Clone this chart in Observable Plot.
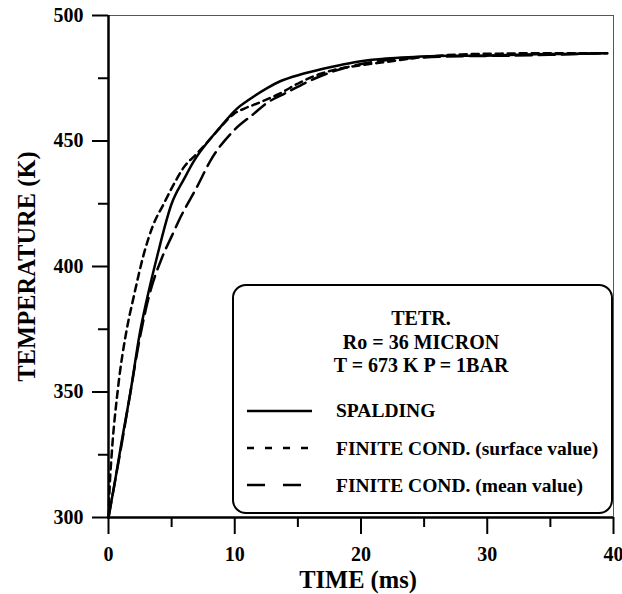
<!DOCTYPE html>
<html>
<head>
<meta charset="utf-8">
<script src="https://cdn.jsdelivr.net/npm/d3@7"></script>
<script src="https://cdn.jsdelivr.net/npm/@observablehq/plot@0.6"></script>
<style>
  html, body { margin: 0; padding: 0; background: #fff; }
  #wrap { position: relative; width: 622px; height: 594px; }
  #legend { position: absolute; left: 0; top: 0; pointer-events: none; }
  svg text { font-family: "Liberation Serif", "Times New Roman", serif; }
</style>
</head>
<body>
<div id="wrap"></div>
<script>
// ---- data ----
const spaldingT = [0, 0.5, 1, 1.74, 2.5, 3, 3.85, 5, 6, 6.76, 8, 8.6, 10.2, 11, 12.6, 13.6, 15.2, 17, 18.4, 20, 22, 24.2, 27, 29.5, 33, 36, 39.5];
const spaldingV = [300, 314, 329, 350, 374, 386, 404, 425, 435, 442, 450.5, 454, 463, 466, 471.2, 473.8, 476.5, 478.8, 480.3, 481.8, 482.9, 483.5, 484, 484, 484.5, 484.7, 485];

const surfaceT = [0, 0.1, 0.25, 0.74, 1.43, 2, 2.8, 3.5, 4.38, 5.2, 5.96, 7, 8, 8.87, 9.93, 10.8, 11.8, 13.6, 15.2, 16.8, 18, 20, 22, 25, 28, 31, 35, 39.5];
const surfaceV = [300, 313, 325, 351, 374.5, 388, 405, 416, 425, 433, 439.5, 445, 450.5, 455.5, 460.8, 463, 465, 469, 473.4, 476.8, 478.5, 480.2, 481.5, 483.5, 484.5, 484.8, 485, 485];

const meanT = [0, 0.5, 1, 1.74, 2.5, 3.2, 4.25, 5, 5.7, 7, 8.08, 9.93, 11.5, 12.5, 14, 16.3, 18.9, 21, 24, 28, 32, 36, 39.5];
const meanV = [300, 314, 328, 350, 372, 388, 403.7, 412, 419.6, 431.6, 442.2, 454.2, 460.8, 465, 469, 474.8, 479.4, 481.5, 483, 483.8, 484, 484.5, 485];

const xMajor = [0, 10, 20, 30, 40];
const xMinor = [5, 15, 25, 35];
const yMajor = [300, 350, 400, 450, 500];
const yMinor = [325, 375, 425, 475];

const xTitle = "TIME (ms)";
const yTitle = "TEMPERATURE (K)";
const legendHead = ["TETR.", "Ro = 36 MICRON", "T = 673 K P = 1BAR"];
const seriesNames = ["SPALDING", "FINITE COND. (surface value)", "FINITE COND. (mean value)"];
const seriesDash = [null, "7,5", "16,7"];
const legendDash = [null, "7,11", "18,18"];

// ---- build tables ----
const toRows = (ts, vs) => ts.map((t, i) => ({t, v: vs[i]}));
const spalding = toRows(spaldingT, spaldingV);
const surface = toRows(surfaceT, surfaceV);
const mean = toRows(meanT, meanV);

const font = "Liberation Serif";

const chart = Plot.plot({
  width: 622,
  height: 594,
  marginLeft: 108,
  marginRight: 9,
  marginTop: 15,
  marginBottom: 77,
  style: {fontFamily: font, fontWeight: "bold", background: "#fff", color: "#000"},
  x: {domain: [0, 40]},
  y: {domain: [300, 500]},
  marks: [
    // frame: thin top/right
    Plot.ruleY([500], {stroke: "#555", strokeWidth: 1}),
    Plot.ruleX([40], {stroke: "#555", strokeWidth: 1}),
    // curves
    Plot.line(spalding, {x: "t", y: "v", stroke: "#000", strokeWidth: 2.5, curve: "monotone-x"}),
    Plot.line(surface, {x: "t", y: "v", stroke: "#000", strokeWidth: 2.5, strokeDasharray: seriesDash[1], curve: "monotone-x"}),
    Plot.line(mean, {x: "t", y: "v", stroke: "#000", strokeWidth: 2.5, strokeDasharray: seriesDash[2], curve: "monotone-x"}),
    // axes
    Plot.axisX({ticks: xMajor, tickSize: 17, tickPadding: 12, fontSize: 20, fontWeight: "bold", strokeWidth: 2, label: null}),
    Plot.axisX({ticks: xMinor, tickSize: 10, tickFormat: () => "", strokeWidth: 2, label: null}),
    Plot.axisY({ticks: yMajor, tickSize: 16, tickPadding: 9, fontSize: 20, fontWeight: "bold", strokeWidth: 2, label: null}),
    Plot.axisY({ticks: yMinor, tickSize: 10, tickFormat: () => "", strokeWidth: 2, label: null}),
    Plot.ruleX([0], {stroke: "#000", strokeWidth: 2.5}),
    Plot.ruleY([300], {stroke: "#000", strokeWidth: 2.5}),
    // axis titles
    Plot.text([yTitle], {text: d => d, frameAnchor: "left", dx: -81, rotate: -90, textAnchor: "middle", lineAnchor: "middle", fontSize: 24.5, fontWeight: "bold"}),
    Plot.text([xTitle], {text: d => d, frameAnchor: "bottom", dy: 63, dx: -3, textAnchor: "middle", lineAnchor: "middle", fontSize: 24.5, fontWeight: "bold"})
  ]
});

const wrap = document.getElementById("wrap");
wrap.appendChild(chart);

// ---- legend overlay ----
const ns = "http://www.w3.org/2000/svg";
const lg = document.createElementNS(ns, "svg");
lg.setAttribute("id", "legend");
lg.setAttribute("width", 622);
lg.setAttribute("height", 594);
const box = document.createElementNS(ns, "rect");
box.setAttribute("x", 233); box.setAttribute("y", 285);
box.setAttribute("width", 379); box.setAttribute("height", 228);
box.setAttribute("rx", 13); box.setAttribute("ry", 13);
box.setAttribute("fill", "#fff"); box.setAttribute("stroke", "#000"); box.setAttribute("stroke-width", 2);
lg.appendChild(box);
const headY = [325, 349, 372];
legendHead.forEach((s, i) => {
  const t = document.createElementNS(ns, "text");
  t.setAttribute("x", 421); t.setAttribute("y", headY[i]);
  t.setAttribute("text-anchor", "middle");
  t.setAttribute("font-size", 20); t.setAttribute("font-weight", "bold");
  t.textContent = s;
  lg.appendChild(t);
});
const rowLineY = [411, 448, 485];
const rowTextY = [417, 455, 492];
seriesNames.forEach((s, i) => {
  const l = document.createElementNS(ns, "line");
  l.setAttribute("x1", 247); l.setAttribute("x2", 312);
  l.setAttribute("y1", rowLineY[i]); l.setAttribute("y2", rowLineY[i]);
  l.setAttribute("stroke", "#000"); l.setAttribute("stroke-width", 2.5);
  if (legendDash[i]) l.setAttribute("stroke-dasharray", legendDash[i]);
  lg.appendChild(l);
  const t = document.createElementNS(ns, "text");
  t.setAttribute("x", 336); t.setAttribute("y", rowTextY[i]);
  t.setAttribute("font-size", 19.5); t.setAttribute("font-weight", "bold");
  t.textContent = s;
  lg.appendChild(t);
});
wrap.appendChild(lg);
</script>
</body>
</html>
